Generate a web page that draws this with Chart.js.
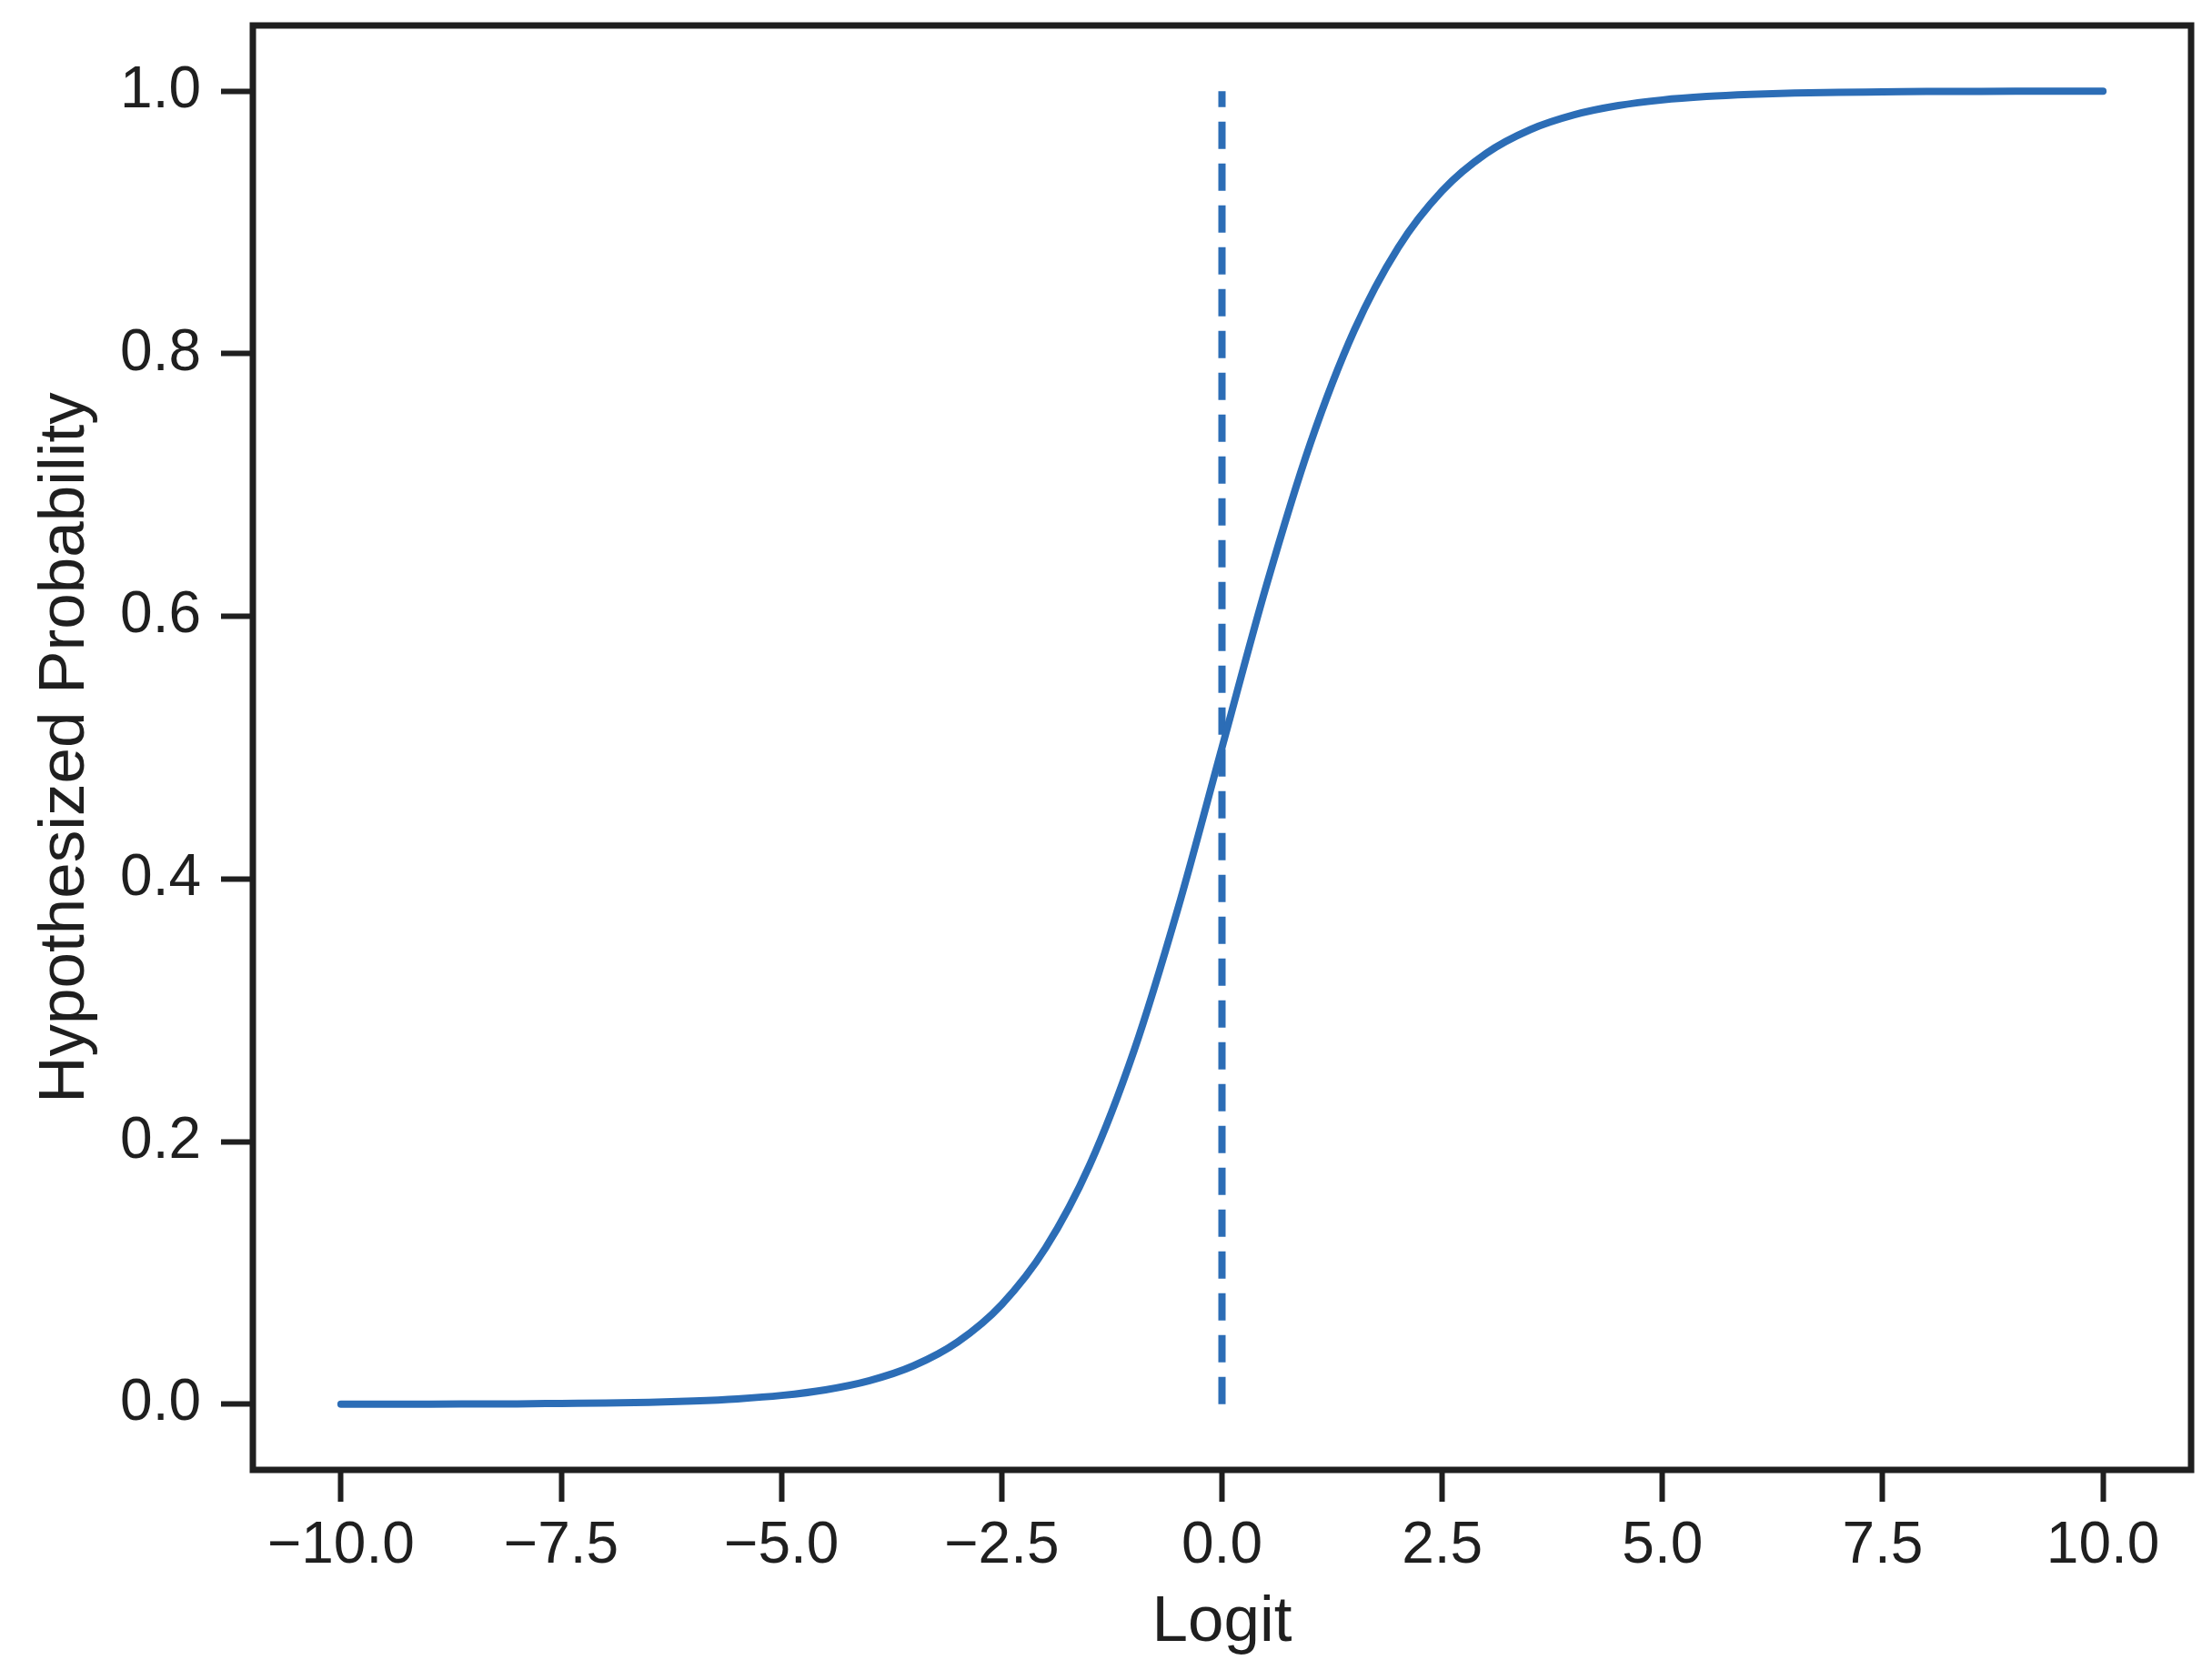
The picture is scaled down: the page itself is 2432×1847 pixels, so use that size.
<!DOCTYPE html>
<html>
<head>
<meta charset="utf-8">
<script src="https://cdn.jsdelivr.net/npm/chart.js@4.4.1/dist/chart.umd.min.js"></script>
<style>
  html, body { margin: 0; padding: 0; background: #fff; }
  #wrap { width: 2432px; height: 1847px; }
</style>
</head>
<body>
<div id="wrap"><canvas id="chart" width="2432" height="1847"></canvas></div>
<script>
// values
var logit = [-10, -9.5, -9, -8.5, -8, -7.5, -7, -6.5, -6, -5.5, -5, -4.5, -4, -3.5, -3, -2.5, -2, -1.5, -1, -0.5,
             0, 0.5, 1, 1.5, 2, 2.5, 3, 3.5, 4, 4.5, 5, 5.5, 6, 6.5, 7, 7.5, 8, 8.5, 9, 9.5, 10];
var prob = [0.0000, 0.0001, 0.0001, 0.0002, 0.0003, 0.0006, 0.0009, 0.0015, 0.0025, 0.0041,
            0.0067, 0.0110, 0.0180, 0.0293, 0.0474, 0.0759, 0.1192, 0.1824, 0.2689, 0.3775,
            0.5000, 0.6225, 0.7311, 0.8176, 0.8808, 0.9241, 0.9526, 0.9707, 0.9820, 0.9890,
            0.9933, 0.9959, 0.9975, 0.9985, 0.9991, 0.9994, 0.9997, 0.9998, 0.9999, 0.9999, 1.0000];
var cutX = [0, 0];
var cutY = [0, 1];
var xTicks = [-10, -7.5, -5, -2.5, 0, 2.5, 5, 7.5, 10];
var yTicks = [0, 0.2, 0.4, 0.6, 0.8, 1.0];

var blue = '#2c6db6';
var ink = '#1f1f1f';
var font = "'Liberation Sans', Arial, sans-serif";

var curve = logit.map(function(x, i) { return {x: x, y: prob[i]}; });
var cut = cutX.map(function(x, i) { return {x: x, y: cutY[i]}; });

var boxPlugin = {
  id: 'box',
  afterDraw: function(chart) {
    var a = chart.chartArea, ctx = chart.ctx;
    ctx.save();
    ctx.strokeStyle = ink;
    ctx.lineWidth = 7;
    ctx.strokeRect(a.left, a.top, a.right - a.left, a.bottom - a.top);
    ctx.restore();
  }
};

function fmt(v) {
  return v.toFixed(1).replace('-', '\u2212');
}

new Chart(document.getElementById('chart'), {
  type: 'line',
  data: {
    datasets: [{
      data: curve,
      borderColor: blue,
      borderWidth: 8,
      pointRadius: 0,
      cubicInterpolationMode: 'monotone',
      borderCapStyle: 'round'
    }, {
      data: cut,
      borderColor: blue,
      borderWidth: 8,
      borderDash: [30, 16],
      pointRadius: 0
    }]
  },
  plugins: [boxPlugin],
  options: {
    responsive: false,
    animation: false,
    layout: { padding: { left: 0, top: 28, right: 23, bottom: 0 } },
    plugins: { legend: { display: false }, tooltip: { enabled: false } },
    scales: {
      x: {
        type: 'linear',
        min: -11,
        max: 11,
        afterBuildTicks: function(s) { s.ticks = xTicks.map(function(v) { return {value: v}; }); },
        afterFit: function(s) { s.height = 231; s.paddingLeft = 0; s.paddingRight = 0; },
        border: { display: false },
        grid: { drawOnChartArea: false, drawTicks: true, tickLength: 35, tickWidth: 6, tickColor: ink },
        ticks: {
          color: ink, padding: 11, maxRotation: 0,
          font: { family: font, size: 64 },
          callback: function(v) { return fmt(v); }
        },
        title: {
          display: true, text: 'Logit', color: ink,
          font: { family: font, size: 71 }, padding: { top: 0, bottom: 20 }
        }
      },
      y: {
        type: 'linear',
        min: -0.05,
        max: 1.05,
        afterBuildTicks: function(s) { s.ticks = yTicks.map(function(v) { return {value: v}; }); },
        afterFit: function(s) { s.width = 278; s.paddingTop = 0; s.paddingBottom = 0; },
        border: { display: false },
        grid: { drawOnChartArea: false, drawTicks: true, tickLength: 35, tickWidth: 6, tickColor: ink },
        ticks: {
          color: ink, padding: 22,
          font: { family: font, size: 64 },
          callback: function(v) { return fmt(v); }
        },
        title: {
          display: true, text: 'Hypothesized Probability', color: ink,
          font: { family: font, size: 71 }, padding: { top: 30, bottom: 0 }
        }
      }
    }
  }
});
</script>
</body>
</html>
